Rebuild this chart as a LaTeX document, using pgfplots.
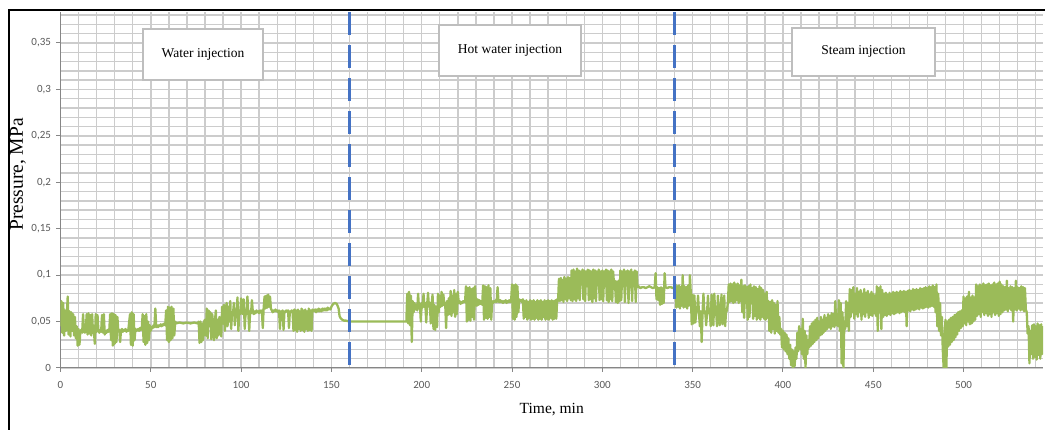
\documentclass[border=0pt]{standalone}
\usepackage{pgfplots}
\pgfplotsset{compat=1.18}
\usepackage{pgfplotstable}
\usepackage{fontspec}
\setmainfont{Liberation Serif}
\newfontfamily\calibri{Carlito}
\definecolor{exgreen}{RGB}{155,187,89}
\definecolor{exblue}{RGB}{68,114,196}
\definecolor{gridc}{RGB}{204,204,204}
\definecolor{axc}{RGB}{134,134,134}
\definecolor{tickc}{RGB}{89,89,89}
\definecolor{boxc}{RGB}{190,190,190}
\pgfplotstableread{
t p
0 0.045
0.5 0.072
1 0.038
1.5 0.070
2 0.035
2.5 0.062
3 0.040
3.5 0.058
4 0.077
4.5 0.036
5 0.061
5.5 0.034
6 0.060
6.5 0.040
7 0.058
7.5 0.035
8 0.055
8.5 0.032
9 0.045
9.5 0.024
10 0.042
10.5 0.025
11 0.040
11.5 0.041
12 0.038
12.5 0.058
13 0.040
13.5 0.038
14 0.041
14.5 0.058
15 0.036
15.5 0.059
16 0.037
16.5 0.057
17 0.035
17.5 0.058
18 0.038
18.5 0.040
19 0.026
19.5 0.058
20 0.039
20.5 0.057
21 0.040
21.5 0.038
22 0.041
22.5 0.039
23 0.057
23.5 0.038
24 0.058
24.5 0.036
25 0.040
25.5 0.038
26 0.041
26.5 0.039
27 0.040
27.5 0.058
28 0.030
28.5 0.059
29 0.024
29.5 0.058
30 0.026
30.5 0.057
31 0.028
31.5 0.055
32 0.040
32.5 0.041
33 0.028
33.5 0.040
34 0.042
34.5 0.039
35 0.041
35.5 0.040
36 0.042
36.5 0.039
37 0.041
37.5 0.040
38.5 0.058
39 0.025
39.5 0.060
40 0.024
40.5 0.058
41 0.030
41.5 0.042
42 0.040
43 0.042
43.5 0.040
44 0.043
44.5 0.041
45 0.043
45.5 0.058
46 0.028
46.5 0.056
47 0.025
47.5 0.058
48 0.027
48.5 0.050
49 0.030
49.5 0.046
50 0.040
50.5 0.044
51 0.043
51.5 0.046
52 0.044
52.5 0.064
53 0.044
53.5 0.046
54 0.044
54.5 0.046
55 0.045
55.5 0.047
56 0.045
56.5 0.047
57 0.046
57.5 0.048
58 0.046
58.5 0.062
59 0.030
59.5 0.066
60 0.028
60.5 0.065
61 0.030
61.5 0.066
62 0.032
62.5 0.064
63 0.035
63.5 0.050
64 0.048
66 0.049
68 0.048
70 0.049
72 0.048
74 0.049
76 0.048
76.5 0.050
77 0.027
77.5 0.050
78 0.028
78.5 0.048
79 0.030
79.5 0.050
80 0.052
80.5 0.035
81 0.064
81.5 0.032
82 0.062
82.5 0.045
83 0.060
83.5 0.031
84 0.058
84.5 0.048
85 0.030
85.5 0.050
86 0.062
86.5 0.032
87 0.052
87.5 0.035
88 0.055
88.5 0.050
89 0.034
89.5 0.066
90 0.048
90.5 0.068
91 0.040
91.5 0.052
92 0.070
92.5 0.045
93 0.066
93.5 0.050
94 0.072
94.5 0.042
95 0.060
95.5 0.058
96 0.070
96.5 0.046
97 0.058
97.5 0.060
98 0.076
98.5 0.040
99 0.062
99.5 0.058
100 0.075
100.5 0.060
101 0.058
101.5 0.074
102 0.042
102.5 0.060
103 0.058
103.5 0.077
104 0.059
104.5 0.040
105 0.061
105.5 0.059
106 0.073
106.5 0.060
107 0.058
107.5 0.061
108 0.059
108.5 0.062
109 0.060
109.5 0.061
110 0.059
110.5 0.062
111 0.060
111.5 0.062
112 0.043
112.5 0.065
113 0.077
113.5 0.064
114 0.078
114.5 0.065
115 0.079
115.5 0.066
116 0.077
116.5 0.064
117 0.062
117.5 0.060
118 0.062
118.5 0.061
119 0.063
119.5 0.061
120 0.062
120.5 0.060
121 0.062
121.5 0.042
122 0.061
122.5 0.060
123 0.062
123.5 0.041
124 0.061
124.5 0.060
125 0.062
125.5 0.061
126 0.062
126.5 0.043
127 0.061
127.5 0.060
128 0.062
128.5 0.061
129 0.040
129.5 0.063
130 0.041
130.5 0.062
131 0.039
131.5 0.063
132 0.042
132.5 0.061
133 0.040
133.5 0.064
134 0.041
134.5 0.062
135 0.039
135.5 0.063
136 0.042
136.5 0.061
137 0.040
137.5 0.064
138 0.041
138.5 0.062
139 0.040
139.5 0.063
140 0.061
141 0.063
141.5 0.060
142 0.063
142.5 0.061
143 0.064
143.5 0.061
144 0.063
144.5 0.061
145 0.064
145.5 0.062
146 0.064
146.5 0.062
147 0.064
147.5 0.062
148 0.065
148.5 0.063
149 0.064
149.5 0.063
150 0.066
151 0.069
152 0.070
153 0.069
154 0.064
154.5 0.056
155 0.054
156 0.052
157 0.051
158 0.051
160 0.050
170 0.050
180 0.050
190 0.050
191.5 0.050
192 0.080
192.5 0.048
193 0.082
193.5 0.046
194 0.078
194.5 0.028
195 0.072
195.5 0.060
196 0.070
196.5 0.063
197 0.068
197.5 0.062
198 0.080
198.5 0.064
199 0.069
199.5 0.050
200 0.070
200.5 0.065
201 0.080
201.5 0.066
202 0.070
202.5 0.049
203 0.068
203.5 0.081
204 0.066
204.5 0.070
205 0.048
205.5 0.069
206 0.079
206.5 0.042
207 0.068
207.5 0.041
208 0.066
208.5 0.044
209 0.080
209.5 0.060
210 0.078
210.5 0.066
211 0.082
211.5 0.067
212 0.079
212.5 0.068
213 0.070
213.5 0.043
214 0.072
214.5 0.057
215 0.075
215.5 0.058
216 0.083
216.5 0.056
217 0.078
217.5 0.060
218 0.084
218.5 0.055
219 0.080
219.5 0.058
220 0.082
220.5 0.070
221 0.072
221.5 0.069
222 0.071
222.5 0.070
223 0.072
224 0.071
224.5 0.088
225 0.050
225.5 0.086
226 0.052
226.5 0.087
227 0.051
227.5 0.085
228 0.055
228.5 0.086
229 0.052
229.5 0.088
230 0.070
230.5 0.067
231 0.074
231.5 0.068
232 0.073
232.5 0.069
233 0.072
233.5 0.068
234 0.089
234.5 0.052
235 0.088
235.5 0.054
236 0.087
236.5 0.053
237 0.089
237.5 0.055
238 0.086
238.5 0.052
239 0.072
239.5 0.070
240 0.072
240.5 0.071
241 0.073
241.5 0.071
242 0.087
242.5 0.072
243 0.071
243.5 0.073
244 0.071
244.5 0.072
245 0.070
245.5 0.072
246 0.071
246.5 0.073
247 0.070
247.5 0.072
248 0.071
248.5 0.073
249 0.071
249.5 0.072
250 0.090
250.5 0.053
251 0.089
251.5 0.052
252 0.090
252.5 0.055
253 0.088
253.5 0.060
254 0.074
254.5 0.072
255 0.073
255.5 0.071
256 0.074
256.5 0.053
257 0.072
257.5 0.055
258 0.073
258.5 0.052
259 0.071
259.5 0.054
260 0.073
260.5 0.052
261 0.072
261.5 0.053
262 0.073
262.5 0.052
263 0.071
263.5 0.054
264 0.073
264.5 0.052
265 0.072
265.5 0.053
266 0.073
266.5 0.052
267 0.071
267.5 0.055
268 0.073
268.5 0.052
269 0.072
269.5 0.053
270 0.073
270.5 0.052
271 0.072
271.5 0.054
272 0.073
272.5 0.052
273 0.072
273.5 0.053
274 0.073
274.5 0.053
275 0.074
275.5 0.072
276 0.096
276.5 0.072
277 0.097
277.5 0.073
278 0.095
278.5 0.071
279 0.098
279.5 0.074
280 0.096
280.5 0.072
281 0.098
281.5 0.075
282 0.097
282.5 0.073
283 0.105
283.5 0.072
284 0.106
284.5 0.074
285 0.104
285.5 0.072
286 0.107
286.5 0.075
287 0.105
287.5 0.073
288 0.104
288.5 0.090
289 0.106
289.5 0.074
290 0.105
290.5 0.072
291 0.104
291.5 0.088
292 0.106
292.5 0.073
293 0.105
293.5 0.074
294 0.104
294.5 0.071
295 0.106
295.5 0.075
296 0.105
296.5 0.072
297 0.104
297.5 0.089
298 0.106
298.5 0.073
299 0.104
299.5 0.074
300 0.105
300.5 0.072
301 0.104
301.5 0.088
302 0.106
302.5 0.073
303 0.105
303.5 0.071
304 0.104
304.5 0.074
305 0.106
305.5 0.072
306 0.104
306.5 0.089
307 0.094
307.5 0.071
308 0.093
308.5 0.070
309 0.094
309.5 0.072
310 0.105
310.5 0.073
311 0.104
311.5 0.088
312 0.106
312.5 0.071
313 0.104
313.5 0.089
314 0.105
314.5 0.070
315 0.104
315.5 0.087
316 0.106
316.5 0.072
317 0.103
317.5 0.088
318 0.105
318.5 0.071
319 0.104
319.5 0.087
320 0.088
321 0.086
322 0.087
323 0.087
324 0.086
325 0.087
326 0.088
327 0.087
328 0.086
329 0.087
329.5 0.102
330 0.074
330.5 0.087
331 0.073
331.5 0.086
332 0.068
332.5 0.087
333 0.069
333.5 0.086
334 0.070
334.5 0.102
335 0.087
336 0.086
337 0.087
338 0.087
339 0.086
340 0.087
340.5 0.090
341 0.065
341.5 0.088
342 0.066
342.5 0.089
343 0.064
343.5 0.087
344 0.067
344.5 0.100
345 0.065
345.5 0.088
346 0.066
346.5 0.087
347 0.064
347.5 0.089
348 0.067
348.5 0.100
349 0.080
349.5 0.047
350 0.079
350.5 0.048
351 0.078
351.5 0.049
352 0.060
352.5 0.062
353 0.078
353.5 0.060
354 0.045
354.5 0.061
355 0.028
355.5 0.060
356 0.080
356.5 0.059
357 0.061
357.5 0.046
358 0.060
358.5 0.078
359 0.059
359.5 0.061
360 0.045
360.5 0.079
361 0.060
361.5 0.046
362 0.080
362.5 0.059
363 0.061
363.5 0.045
364 0.078
364.5 0.060
365 0.046
365.5 0.061
366 0.079
366.5 0.047
367 0.060
367.5 0.078
368 0.045
368.5 0.060
369 0.062
369.5 0.070
370 0.090
370.5 0.071
371 0.091
371.5 0.072
372 0.090
372.5 0.070
373 0.092
373.5 0.071
374 0.090
374.5 0.073
375 0.091
375.5 0.070
376 0.089
376.5 0.072
377 0.095
377.5 0.060
378 0.088
378.5 0.054
379 0.089
379.5 0.070
380 0.087
380.5 0.052
381 0.088
381.5 0.055
382 0.090
382.5 0.070
383 0.086
383.5 0.053
384 0.088
384.5 0.056
385 0.087
385.5 0.052
386 0.085
386.5 0.054
387 0.088
387.5 0.052
388 0.086
388.5 0.055
389 0.084
389.5 0.053
390 0.080
390.5 0.052
391 0.082
391.5 0.054
392 0.072
392.5 0.040
393 0.071
393.5 0.038
394 0.073
394.5 0.042
395 0.070
395.5 0.037
396 0.068
396.5 0.040
397 0.072
397.5 0.038
398 0.055
398.5 0.036
399 0.042
399.5 0.022
400 0.040
400.5 0.020
401 0.038
401.5 0.018
402 0.036
402.5 0.015
403 0.032
403.5 0.010
404 0.025
404.5 0.003
405 0.020
405.5 0.000
406 0.018
406.5 0.002
407 0.022
407.5 0.010
408 0.038
408.5 0.018
409 0.045
409.5 0.020
410 0.042
410.5 0.015
411 0.053
411.5 0.010
412 0.040
412.5 0.000
413 0.035
413.5 0.015
414 0.030
414.5 0.022
415 0.045
415.5 0.024
416 0.048
416.5 0.026
417 0.050
417.5 0.028
418 0.052
418.5 0.030
419 0.054
419.5 0.032
420 0.050
420.5 0.035
421 0.055
421.5 0.036
422 0.052
422.5 0.038
423 0.057
423.5 0.040
424 0.054
424.5 0.042
425 0.058
425.5 0.044
426 0.056
426.5 0.042
427 0.059
427.5 0.045
428 0.058
428.5 0.044
429 0.072
429.5 0.046
430 0.058
430.5 0.045
431 0.073
431.5 0.040
432 0.070
432.5 0.005
433 0.060
433.5 0.000
434 0.050
434.5 0.042
435 0.072
435.5 0.045
436 0.070
436.5 0.040
437 0.085
437.5 0.055
438 0.084
438.5 0.060
439 0.087
439.5 0.053
440 0.080
440.5 0.058
441 0.086
441.5 0.055
442 0.082
442.5 0.060
443 0.084
443.5 0.052
444 0.080
444.5 0.058
445 0.085
445.5 0.055
446 0.081
446.5 0.060
447 0.083
447.5 0.054
448 0.079
448.5 0.057
449 0.082
449.5 0.056
450 0.080
450.5 0.059
451 0.078
451.5 0.056
452 0.088
452.5 0.040
453 0.086
453.5 0.060
454 0.088
454.5 0.042
455 0.084
455.5 0.055
456 0.080
456.5 0.057
457 0.081
457.5 0.056
458 0.079
458.5 0.058
459 0.081
459.5 0.057
460 0.080
460.5 0.059
461 0.082
461.5 0.058
462 0.081
462.5 0.059
463 0.082
463.5 0.060
464 0.081
464.5 0.059
465 0.083
465.5 0.060
466 0.082
466.5 0.061
467 0.083
467.5 0.060
468 0.082
468.5 0.045
469 0.083
469.5 0.062
470 0.084
470.5 0.061
471 0.083
471.5 0.063
472 0.085
472.5 0.062
473 0.084
473.5 0.063
474 0.085
474.5 0.064
475 0.084
475.5 0.063
476 0.086
476.5 0.065
477 0.085
477.5 0.064
478 0.086
478.5 0.065
479 0.087
479.5 0.066
480 0.086
480.5 0.065
481 0.088
481.5 0.066
482 0.087
482.5 0.067
483 0.089
483.5 0.066
484 0.087
484.5 0.060
485 0.090
485.5 0.045
486 0.080
486.5 0.040
487 0.070
487.5 0.035
488 0.055
488.5 0.020
489 0.000
489.5 0.030
490 0.052
490.5 0.000
491 0.050
491.5 0.023
492 0.052
492.5 0.025
493 0.054
493.5 0.028
494 0.055
494.5 0.030
495 0.057
495.5 0.033
496 0.058
496.5 0.036
497 0.060
497.5 0.040
498 0.061
498.5 0.043
499 0.062
499.5 0.045
500 0.077
500.5 0.048
501 0.075
501.5 0.046
502 0.077
502.5 0.050
503 0.082
503.5 0.047
504 0.076
504.5 0.048
505 0.078
505.5 0.050
506 0.076
506.5 0.052
507 0.090
507.5 0.056
508 0.088
508.5 0.058
509 0.090
509.5 0.055
510 0.089
510.5 0.060
511 0.091
511.5 0.057
512 0.089
512.5 0.059
513 0.090
513.5 0.056
514 0.091
514.5 0.058
515 0.089
515.5 0.055
516 0.090
516.5 0.060
517 0.092
517.5 0.057
518 0.090
518.5 0.059
519 0.091
519.5 0.056
520 0.093
520.5 0.058
521 0.090
521.5 0.060
522 0.088
522.5 0.062
523 0.087
523.5 0.063
524 0.094
524.5 0.061
525 0.086
525.5 0.064
526 0.088
526.5 0.062
527 0.087
527.5 0.050
528 0.086
528.5 0.063
529 0.094
529.5 0.062
530 0.087
530.5 0.064
531 0.086
531.5 0.062
532 0.088
532.5 0.063
533 0.087
533.5 0.061
534 0.086
534.5 0.063
535 0.060
535.5 0.037
536 0.045
536.5 0.005
537 0.040
537.5 0.015
538 0.046
538.5 0.010
539 0.047
539.5 0.012
540 0.045
540.5 0.009
541 0.048
541.5 0.014
542 0.046
542.5 0.010
543 0.047
543.5 0.015
544 0.045
}\pressure
\begin{document}
\begin{tikzpicture}[x=1pt,y=1pt,
  phase/.style={draw=boxc, line width=1.2pt, fill=white, inner sep=0pt, font=\fontsize{13.5}{16}\selectfont}]
\begin{axis}[
  scale only axis,
  width=982.5pt, height=355.7pt,
  xmin=0, xmax=544, ymin=0, ymax=0.383,
  xtick={0,50,100,150,200,250,300,350,400,450,500},
  minor xtick={10,20,30,40,60,70,80,90,110,120,130,140,160,170,180,190,210,220,230,240,260,270,280,290,310,320,330,340,360,370,380,390,410,420,430,440,460,470,480,490,510,520,530,540},
  ytick={0,0.05,0.1,0.15,0.2,0.25,0.3,0.35},
  yticklabels={0,{0,05},{0,1},{0,15},{0,2},{0,25},{0,3},{0,35}},
  xticklabels={0,50,100,150,200,250,300,350,400,450,500},
  scaled ticks=false,
  minor ytick={0.01,0.02,0.03,0.04,0.06,0.07,0.08,0.09,0.11,0.12,0.13,0.14,0.16,0.17,0.18,0.19,0.21,0.22,0.23,0.24,0.26,0.27,0.28,0.29,0.31,0.32,0.33,0.34,0.36,0.37,0.38},
  grid=both,
  major grid style={draw=gridc, line width=1.4pt},
  minor grid style={draw=gridc, line width=1.4pt},
  axis x line*=bottom, axis y line*=left,
  axis line style={draw=axc, line width=1pt, -},
  tick align=outside, major tick length=4pt, minor tick length=0pt,
  tick style={draw=axc, line width=1pt},
  ticklabel style={font=\calibri\fontsize{11}{13}\selectfont, text=tickc},
  yticklabel style={xshift=-2pt},
  xticklabel style={yshift=-6pt},
  xlabel={Time, min}, ylabel={Pressure, MPa},
  xlabel style={font=\fontsize{15.5}{18}\selectfont, at={(axis description cs:0.5,0)}, anchor=center, yshift=-42pt},
  ylabel style={font=\fontsize{19.5}{22}\selectfont, at={(axis description cs:-0.0433,0.544)}, anchor=center},
]
\addplot[exgreen, line width=2.3pt, line join=round] table[x=t, y=p]{\pressure};
\addplot[exblue, line width=2.2pt, dash pattern=on 23pt off 10pt] coordinates {(160,0.383) (160,0)};
\addplot[exblue, line width=2.2pt, dash pattern=on 23pt off 10pt] coordinates {(340,0.383) (340,0)};
\node[phase, minimum width=120pt, minimum height=51pt] at (axis cs:78.9,0.3376) {Water injection};
\node[phase, minimum width=142pt, minimum height=51pt] at (axis cs:248.9,0.3419) {Hot water injection};
\node[phase, minimum width=143pt, minimum height=48pt] at (axis cs:444.6,0.3403) {Steam injection};
\end{axis}
\draw[line width=2pt, black] (-51.5,-62) -- (-51.5,358) -- (984.5,358);
\pgfresetboundingbox
\path[use as bounding box] (-60.5,-62) rectangle (984.5,368);
\end{tikzpicture}
\end{document}
